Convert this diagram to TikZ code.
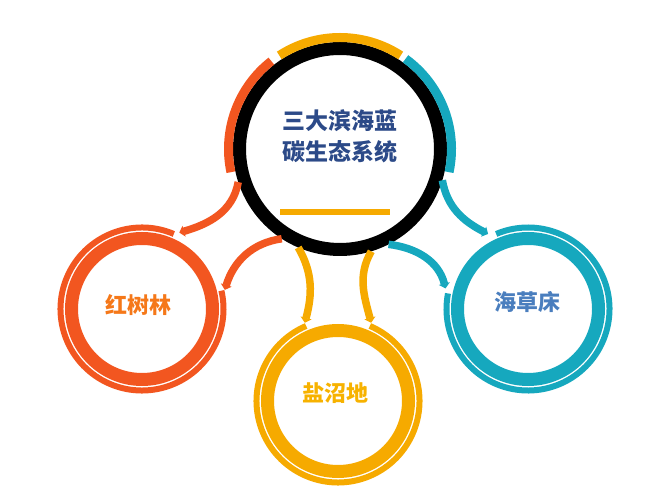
\documentclass[tikz,border=0pt]{standalone}
\usepackage{fontspec}
\newfontfamily\cjk{Noto Sans CJK SC}
\usepackage{tikz}
\usetikzlibrary{arrows.meta}
\definecolor{mangrovered}{RGB}{242,86,32}
\definecolor{marshyellow}{RGB}{246,170,0}
\definecolor{seagrassteal}{RGB}{22,168,190}
\colorlet{mangrovetext}{mangrovered!80!yellow}
\colorlet{marshtext}{marshyellow!90!yellow}
\definecolor{seagrasstext}{RGB}{74,126,190}
\definecolor{titleblue}{RGB}{44,74,136}

\begin{document}
\begin{tikzpicture}[x=1pt,y=1pt]
        \useasboundingbox (0,0) rectangle (663,500);
        % hub
        \node[circle, draw=black, line width=13pt, minimum size=201pt, inner sep=0pt] (hub) at (340,351) {};
        \foreach \a/\b/\c in {128/192/mangrovered, 57/123/marshyellow, -12/54/seagrassteal}{
            \draw[\c, line width=9pt] (hub.center) ++(\a:111.5pt) arc[start angle=\a, end angle=\b, radius=111.5pt];
        }
        \node[text=titleblue, font=\cjk\bfseries\fontsize{23}{31}\selectfont, align=center] (title) at (340,364) {三大滨海蓝\\碳生态系统};
        \draw[marshyellow, line width=6pt] (280,288) -- (390,288);
        % satellites
        \foreach \n/\x/\y/\c/\g/\d in {mangrove/142/191/mangrovered/67/306, marsh/338/99/marshyellow/113/314, seagrass/528/191/seagrassteal/169/304}{
            \node[circle, draw=\c, line width=13pt, minimum size=141pt, inner sep=0pt, outer sep=14.5pt] (\n) at (\x,\y) {};
            \draw[\c, line width=6pt] (\n.center) ++(\g:81.5pt) arc[start angle=\g, delta angle=\d, radius=81.5pt];
        }
        \node[text=mangrovetext, font=\cjk\bfseries\fontsize{22}{26}\selectfont] (mangrove label) at (138,195) {红树林};
        \node[text=marshtext, font=\cjk\bfseries\fontsize{22}{26}\selectfont] (marsh label) at (335,107) {盐沼地};
        \node[text=seagrasstext, font=\cjk\bfseries\fontsize{22}{26}\selectfont] (seagrass label) at (527,198) {海草床};
        % arrows
        \foreach \s/\t/\o/\i/\c in {198/mangrove.64/-100/16/mangrovered, 237/mangrove.13/188/73/mangrovered, 247/marsh.113/-60/75/marshyellow, 287/marsh.67/-120/105/marshyellow, -17/seagrass.118/-80/153/seagrassteal, -63/seagrass.166/-7/104/seagrassteal}{
            \draw[\c, line width=7.5pt, -{Triangle[length=5pt, width=11pt]}] (hub.\s) to[out=\o, in=\i] (\t);
        }
    \end{tikzpicture}
\end{document}
